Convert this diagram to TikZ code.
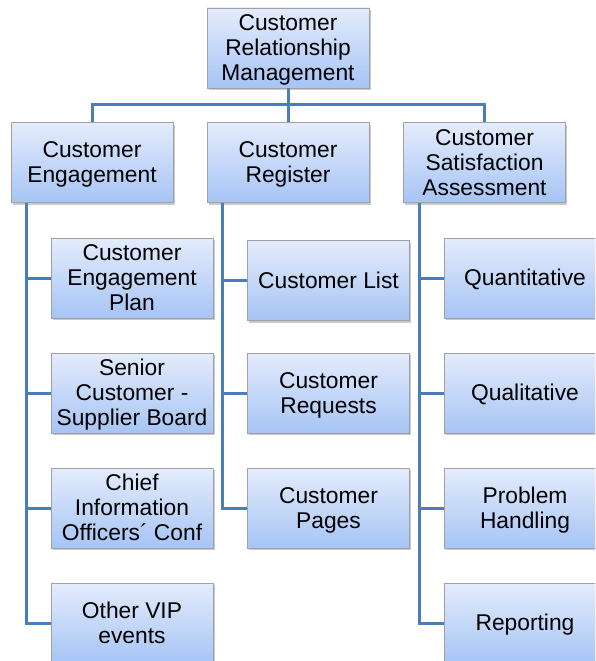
\documentclass[tikz,border=0pt]{standalone}
\usepackage{fontspec}
\setmainfont{Liberation Sans}
\usetikzlibrary{shadows}
\definecolor{boxtop}{RGB}{228,236,252}
\definecolor{boxbot}{RGB}{166,196,245}
\definecolor{boxline}{RGB}{160,160,165}
\definecolor{conn}{RGB}{74,126,187}
\newcommand\bxt[1]{\raisebox{0pt}[\height][\dimexpr\depth-5pt\relax]{\begin{tabular}{@{}c@{}}#1\end{tabular}}}
\tikzset{
  box/.style={rectangle, draw=boxline, line width=0.8pt, top color=boxtop, bottom color=boxbot,
    minimum width=162pt, minimum height=80pt, inner sep=0pt,
    font=\fontsize{22.8}{25}\selectfont,
    drop shadow={shadow xshift=1.5pt, shadow yshift=-2pt, opacity=0.3, fill=black!70}},
  link/.style={draw=conn, line width=3pt}
}
\begin{document}
\begin{tikzpicture}[x=1pt,y=-1pt]
\useasboundingbox (0,0) rectangle (595,661);
\clip (0,0) rectangle (595,661);
% root and level 1
\node[box] (root) at (288,48) {\bxt{Customer\\Relationship\\Management}};
\node[box] (ce) at (92,162.5) {\bxt{Customer\\Engagement}};
\node[box] (cr) at (288,162.5) {\bxt{Customer\\Register}};
\node[box] (csa) at (484.5,162.5) {\bxt{Customer\\Satisfaction\\Assessment}};
% children of Customer Engagement
\node[box] (ce1) at (132,278) {\bxt{Customer\\Engagement\\Plan}};
\node[box] (ce2) at (132,393) {\bxt{Senior\\Customer -\\Supplier Board}};
\node[box] (ce3) at (132,508) {\bxt{Chief\\Information\\Officers´ Conf}};
\node[box] (ce4) at (132,623) {\bxt{Other VIP\\events}};
% children of Customer Register
\node[box] (cr1) at (328.5,280.5) {\bxt{Customer List}};
\node[box] (cr2) at (328.5,393) {\bxt{Customer\\Requests}};
\node[box] (cr3) at (328.5,508) {\bxt{Customer\\Pages}};
% children of Customer Satisfaction Assessment
\node[box] (cs1) at (525,278) {\bxt{Quantitative}};
\node[box] (cs2) at (525,393) {\bxt{Qualitative}};
\node[box] (cs3) at (525,508) {\bxt{Problem\\Handling}};
\node[box] (cs4) at (525,623) {\bxt{Reporting}};
% connectors
\coordinate (bus) at ([yshift=-16pt]root.south);
\draw[link] (root.south) -- (cr.north);
\draw[link] (bus) -| (ce.north);
\draw[link] (bus) -| (csa.north);
\foreach \c in {ce1,ce2,ce3,ce4}
  \draw[link] ([xshift=16pt]ce.south west) |- (\c.west);
\foreach \c in {cr1,cr2,cr3}
  \draw[link] ([xshift=16pt]cr.south west) |- (\c.west);
\foreach \c in {cs1,cs2,cs3,cs4}
  \draw[link] ([xshift=16.5pt]csa.south west) |- (\c.west);
\end{tikzpicture}
\end{document}
